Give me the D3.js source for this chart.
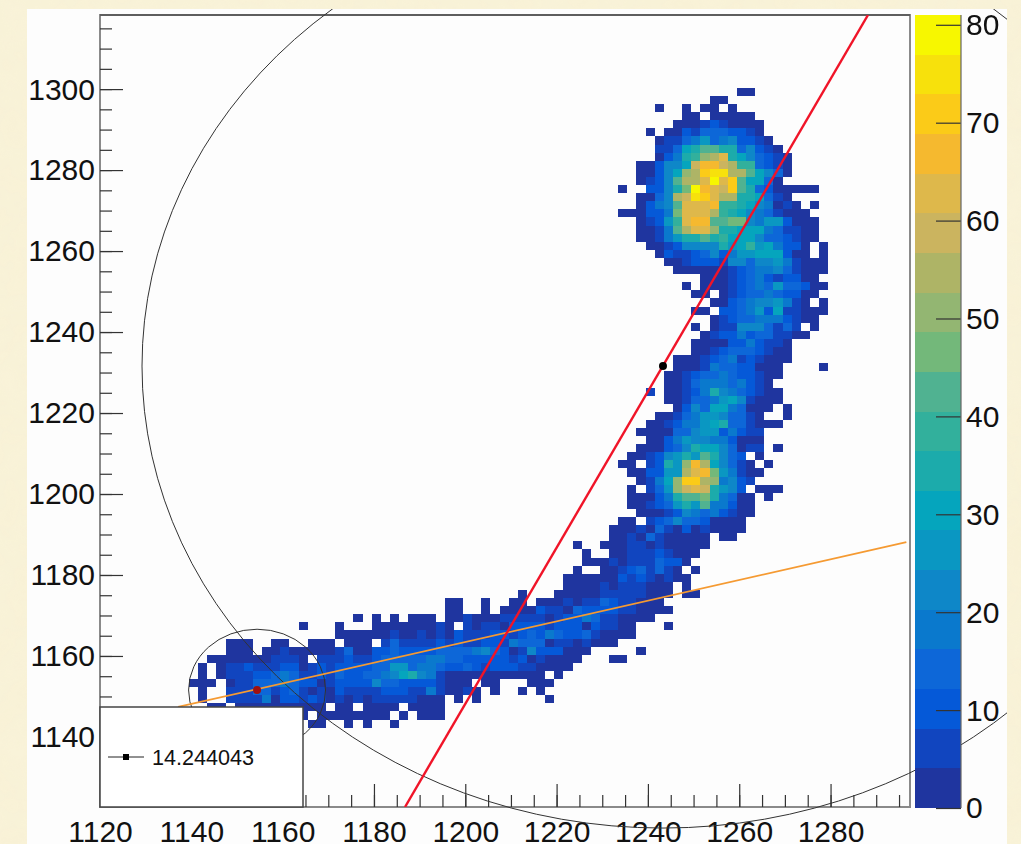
<!DOCTYPE html>
<html>
<head>
<meta charset="utf-8">
<script src="https://cdn.jsdelivr.net/npm/d3@7"></script>
<style>
  html, body { margin: 0; padding: 0; background: #f9f3d9; overflow: hidden; }
  text { font-family: "Liberation Sans", Arial, sans-serif; fill: #111; }
  svg { filter: blur(0.35px); }
</style>
</head>
<body>
<div id="root"></div>
<script>
const width = 1021;
const height = 844;

// Axis values
const xDomain = [1120, 1297.4];
const yDomain = [1122.7, 1318.3];
const zDomain = [0, 81];
const xLabels = [1120, 1140, 1160, 1180, 1200, 1220, 1240, 1260, 1280];
const xMinor = d3.range(1125, 1297, 5);
const yLabels = [1140, 1160, 1180, 1200, 1220, 1240, 1260, 1280, 1300];
const yMinor = d3.range(1125, 1318, 5);
const zLabels = [0, 10, 20, 30, 40, 50, 60, 70, 80];

// Palette bands, low to high
const palette = ['#1f359f', '#1145bf', '#0559d8', '#0d67d8', '#0a79cd', '#0e87c8', '#0a97c2',
  '#05a5bd', '#1cabab', '#32b09c', '#50b291', '#73b87a', '#93b672', '#aeb466', '#cbb45f',
  '#deb84b', '#f5b92f', '#fbcb18', '#f7e10c', '#f7f700'];

// Histogram bins, 2 units wide, first column edge and first row edge
const binSize = 2;
const xEdge = 1119.5;
const yEdge = 1318.3;
const firstRow = 9;

// First occupied column of each row
const rowStarts = [70, 67, 61, 64, 63, 60, 61, 61, 61, 59, 59, 59, 57, 59, 59, 57, 59, 59, 59, 60,
  61, 62, 63, 66, 64, 65, 67, 65, 67, 65, 66, 65, 65, 63, 63, 62, 62, 60, 62, 63, 61, 60, 59, 60,
  59, 58, 57, 58, 59, 58, 58, 58, 59, 57, 56, 56, 52, 53, 53, 52, 51, 51, 46, 38, 38, 28, 22, 26,
  14, 14, 12, 11, 11, 10, 11, 11, 12, 22, 23];

// Colour band of each cell, one base-36 digit per cell, '.' is an empty bin
const rowCells = [
  '00',
  '00',
  '0..0.00.0',
  '00.00000',
  '0001210000',
  '0.00213332210',
  '0113463452210',
  '11378aa8835210',
  '02489cdf8753210',
  '002557egged993210',
  '00257cdhiidda7530',
  '0125addfjfha7730',
  '0..2258bjgfeha83200000',
  '0035deihfdd887310',
  '0245afffg998754010.0',
  '000224bfffd9875431000',
  '01269fggaabb54662000',
  '0014adffc88777431100',
  '0014688a897775332100',
  '001255558679674220.0',
  '02112352466777200.0',
  '001222155355641000',
  '00000012344531000',
  '0001234212200',
  '0.00012343633200',
  '00.01233432200',
  '00234556410.0',
  '00.223462711000',
  '012334442100',
  '0.0115553131.0',
  '012242331100',
  '00002242110',
  '00123332100',
  '0001234121000',
  '000143322000....0',
  '0012334322100',
  '001344434210',
  '1.0012485432100',
  '0013346751000',
  '02537743000.0',
  '001346653310..0',
  '001244678331000',
  '00003356624211',
  '0024655442000',
  '00023587753011.0',
  '00125686a8532.0',
  '00.1286cgd75310.0',
  '002266dfgb64100',
  '0147chhdc4521',
  '0.136cefe8652.000',
  '000248aab84300.0',
  '00123686a44200',
  '0001254342100',
  '00.12353320000',
  '000103102010000',
  '00103100000.00',
  '0..000110100000',
  '0..0011121000',
  '000101113220',
  '0..001231310.0',
  '00000021210100',
  '000010111000.0',
  '0...0000011111000.00',
  '00..0..00.00010113211000',
  '00..0.0000211032222110000',
  '0.0.0.000.00100011111012243110000',
  '0...0...000000010.1011022221222021100...0',
  '000000100101021112212324322310000',
  '000..00..000.000.13111121211221433301101000',
  '000.001000001300223222233334532015222000.....0',
  '00000001110.11121123333344332222212010000...00',
  '0.011211122012122223366344322321222110000',
  '0.011122343112132233457854100000000000.0',
  '000.011333432201222253322221000.00...000',
  '0..1113312310102111122211410010.0..0.0',
  '0..111140221210101011111000.0.0.......0',
  '00.0000000000.00.0000.0000',
  '0.00000000.0.000',
  '00..0.0..0'
];

// Fitted circles and lines drawn over the histogram
const circles = [
  {cx: 1243.3, cy: 1231.6, r: 114.1},
  {cx: 1154.4, cy: 1151.6, r: 15}
];
const centres = [
  {x: 1243.3, y: 1231.6, colour: '#000'},
  {x: 1154.4, y: 1151.6, colour: '#a01010'}
];
const redLine = [[1186.8, 1122.7], [1288.2, 1318.3]];
const orangeLine = [[1137.1, 1147.4], [1296.6, 1188.1]];
const legendLabel = '14.244043';

const x = d3.scaleLinear().domain(xDomain).range([100, 910]);
const y = d3.scaleLinear().domain(yDomain).range([807, 15]);
const z = d3.scaleLinear().domain(zDomain).range([808, 15]);
const colour = d3.scaleQuantize().domain(zDomain).range(palette);

// Unpack the rows into cells
const cells = [];
rowCells.forEach((row, i) => {
  row.split('').forEach((ch, j) => {
    if (ch === '.') return;
    cells.push({
      col: rowStarts[i] + j,
      row: firstRow + i,
      value: (parseInt(ch, 36) + 0.5) * 4.05
    });
  });
});

const chart = d3.select('#root')
  .append('svg:svg')
  .attr('width', width)
  .attr('height', height)
  .style('display', 'block');

const defs = chart.append('svg:defs');
defs.append('svg:clipPath')
  .attr('id', 'pad')
  .append('svg:rect')
  .attr('x', 27).attr('y', 9).attr('width', 980).attr('height', 835);
defs.append('svg:clipPath')
  .attr('id', 'frame')
  .append('svg:rect')
  .attr('x', 100).attr('y', 15).attr('width', 810).attr('height', 792);

// Faint mottling of the page background
const paper = defs.append('svg:filter')
  .attr('id', 'paper')
  .attr('x', 0).attr('y', 0).attr('width', 1).attr('height', 1);
paper.append('svg:feTurbulence')
  .attr('type', 'fractalNoise')
  .attr('baseFrequency', 0.03)
  .attr('numOctaves', 3)
  .attr('seed', 4);
paper.append('svg:feColorMatrix')
  .attr('values', '0 0 0 0 0.93  0 0 0 0 0.85  0 0 0 0 0.62  0 0 0 0.35 -0.05');

chart.append('svg:rect')
  .attr('width', width).attr('height', height)
  .attr('filter', 'url(#paper)');

// Pad
chart.append('svg:rect')
  .attr('x', 27).attr('y', 9).attr('width', 980).attr('height', 835)
  .attr('fill', '#fdfdfd');

////// HISTOGRAM //////
chart.append('svg:g')
  .attr('shape-rendering', 'crispEdges')
  .selectAll('rect')
  .data(cells)
  .enter()
    .append('svg:rect')
    .attr('x', d => x(xEdge + d.col * binSize))
    .attr('y', d => y(yEdge - d.row * binSize))
    .attr('width', x(binSize) - x(0))
    .attr('height', y(0) - y(binSize))
    .attr('fill', d => colour(d.value));

////// FRAME AND AXES //////
chart.append('svg:rect')
  .attr('x', 100).attr('y', 15).attr('width', 810).attr('height', 792)
  .attr('fill', 'none').attr('stroke', '#8a8a8a').attr('stroke-width', 2);
chart.append('svg:line')
  .attr('x1', 100).attr('x2', 910).attr('y1', 15).attr('y2', 15)
  .attr('stroke', '#333').attr('stroke-width', 1);

function styleAxis(g) {
  g.select('.domain').remove();
  g.selectAll('line').attr('stroke', '#333').attr('stroke-width', 1.2);
  g.selectAll('text').style('font-size', '30px').attr('fill', '#111');
}

chart.append('svg:g')
  .attr('transform', 'translate(0,807)')
  .call(d3.axisBottom(x).tickValues(xMinor).tickSize(-12).tickFormat(''))
  .call(styleAxis);
chart.append('svg:g')
  .attr('transform', 'translate(0,807)')
  .call(d3.axisBottom(x).tickValues(xLabels).tickSize(-23).tickPadding(13).tickFormat(d3.format('d')))
  .call(styleAxis)
  .call(g => g.selectAll('text').attr('dy', null).attr('y', 35));

chart.append('svg:g')
  .attr('transform', 'translate(100,0)')
  .call(d3.axisLeft(y).tickValues(yMinor).tickSize(-12).tickFormat(''))
  .call(styleAxis);
chart.append('svg:g')
  .attr('transform', 'translate(100,0)')
  .call(d3.axisLeft(y).tickValues(yLabels).tickSize(-23).tickPadding(5).tickFormat(d3.format('d')))
  .call(styleAxis)
  .call(g => g.selectAll('text').attr('x', -5).attr('dy', '0.33em'));

////// OVERLAYS //////
const overlay = chart.append('svg:g').attr('clip-path', 'url(#pad)');
overlay.selectAll('ellipse')
  .data(circles)
  .enter()
    .append('svg:ellipse')
    .attr('cx', d => x(d.cx))
    .attr('cy', d => y(d.cy))
    .attr('rx', d => x(d.r) - x(0))
    .attr('ry', d => y(0) - y(d.r))
    .attr('fill', 'none')
    .attr('stroke', '#333')
    .attr('stroke-width', 1);

const line = d3.line().x(d => x(d[0])).y(d => y(d[1]));
const lines = chart.append('svg:g').attr('clip-path', 'url(#frame)');
lines.append('svg:path')
  .attr('d', line(orangeLine))
  .attr('fill', 'none').attr('stroke', '#f59a32').attr('stroke-width', 1.8);
lines.append('svg:path')
  .attr('d', line(redLine))
  .attr('fill', 'none').attr('stroke', '#f01428').attr('stroke-width', 2.4);

chart.append('svg:g')
  .selectAll('circle')
  .data(centres)
  .enter()
    .append('svg:circle')
    .attr('cx', d => x(d.x))
    .attr('cy', d => y(d.y))
    .attr('r', 4)
    .attr('fill', d => d.colour);

////// LEGEND //////
chart.append('svg:rect')
  .attr('x', 100).attr('y', 707).attr('width', 203).attr('height', 100)
  .attr('fill', '#fff').attr('stroke', '#444').attr('stroke-width', 1.5);
chart.append('svg:line')
  .attr('x1', 108).attr('x2', 144).attr('y1', 757).attr('y2', 757)
  .attr('stroke', '#222').attr('stroke-width', 1);
chart.append('svg:rect')
  .attr('x', 123).attr('y', 754).attr('width', 6).attr('height', 6)
  .attr('fill', '#000');
chart.append('svg:text')
  .attr('x', 152).attr('y', 765)
  .style('font-size', '21.6px')
  .text(legendLabel);

////// COLOUR BAR //////
chart.append('svg:g')
  .attr('shape-rendering', 'crispEdges')
  .selectAll('rect')
  .data(palette)
  .enter()
    .append('svg:rect')
    .attr('x', 915)
    .attr('width', 46)
    .attr('y', d => z(colour.invertExtent(d)[1]))
    .attr('height', d => z(colour.invertExtent(d)[0]) - z(colour.invertExtent(d)[1]))
    .attr('fill', d => d);

chart.append('svg:g')
  .attr('transform', 'translate(961,0)')
  .call(d3.axisRight(z).tickValues(zLabels).tickSize(-25).tickPadding(5))
  .call(styleAxis)
  .call(g => g.selectAll('text').attr('x', 5).attr('dy', '0.33em'));
chart.append('svg:line')
  .attr('x1', 961).attr('x2', 961).attr('y1', 15).attr('y2', 808)
  .attr('stroke', '#666').attr('stroke-width', 1.2);
</script>
</body>
</html>
